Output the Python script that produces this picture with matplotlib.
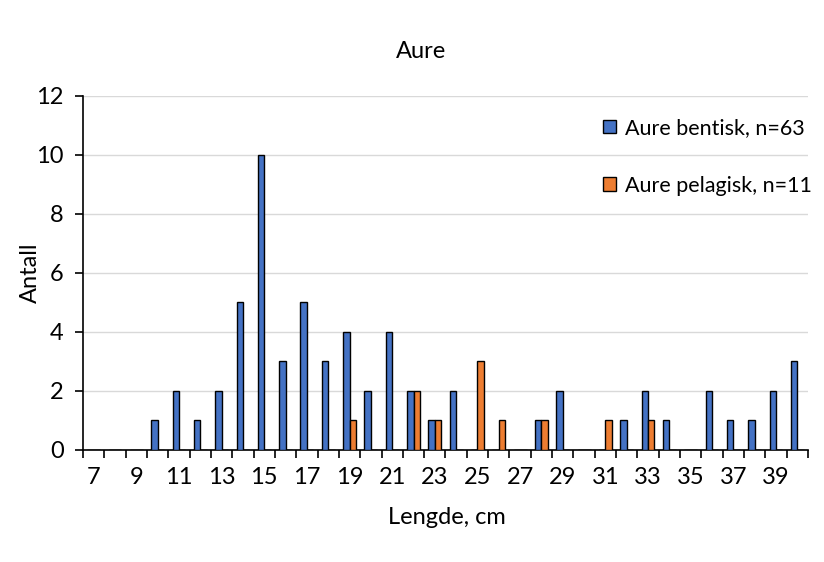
import matplotlib
matplotlib.use("Agg")
import matplotlib.pyplot as plt
import numpy as np

plt.rcParams['font.family'] = ['Lato', 'DejaVu Sans']

lengths = list(range(7, 41))
bentisk = [0, 0, 0, 1, 2, 1, 2, 5, 10, 3, 5, 3, 4, 2, 4, 2, 1, 2, 0, 0, 0, 1, 2, 0, 0, 1, 2, 1, 0, 2, 1, 1, 2, 3]
pelagisk = [0, 0, 0, 0, 0, 0, 0, 0, 0, 0, 0, 0, 1, 0, 0, 2, 1, 0, 3, 1, 0, 1, 0, 0, 1, 0, 1, 0, 0, 0, 0, 0, 0, 0]
labels = ["Aure bentisk, n=63", "Aure pelagisk, n=11"]
title = "Aure"
xlabel = "Lengde, cm"
ylabel = "Antall"

fs = 17
W, H = 824, 562
fig = plt.figure(figsize=(8.24, 5.62), dpi=100)
ax = fig.add_axes([0.1007, 0.1993, 0.8799, 0.6299])

x = np.arange(len(lengths))
w = 0.3
ax.bar(x - w / 2, bentisk, width=w, color="#4472C4", edgecolor="black", linewidth=1.0, label=labels[0], zorder=3)
ax.bar(x + w / 2, pelagisk, width=w, color="#ED7D31", edgecolor="black", linewidth=1.0, label=labels[1], zorder=3)

ax.set_xlim(-0.5, len(lengths) - 0.5)
ax.set_ylim(0, 12)
ax.set_yticks(range(0, 13, 2))
ax.yaxis.grid(True, color="#d9d9d9", linewidth=1.0, zorder=0)
ax.set_axisbelow(True)

ax.set_xticks(x[::2])
ax.set_xticklabels([str(v) for v in lengths[::2]])
ax.set_xticks(np.arange(-0.5, len(lengths), 1.0), minor=True)
ax.tick_params(axis='x', which='major', length=0, labelsize=fs, pad=12)
ax.tick_params(axis='x', which='minor', length=6, width=1.2, direction='out')
ax.tick_params(axis='y', length=6, width=1.2, labelsize=fs, pad=8)

for s in ['top', 'right']:
    ax.spines[s].set_visible(False)
ax.spines['left'].set_linewidth(1.2)
ax.spines['bottom'].set_linewidth(1.2)

fig.text(421 / W, 1 - 52 / H, title, fontsize=fs, ha='center', va='center')
ax.set_xlabel(xlabel, fontsize=fs, va='center')
ax.xaxis.set_label_coords((447 - 83) / 725, (450 - 518) / 354)
ax.set_ylabel(ylabel, fontsize=fs, va='center')
ax.yaxis.set_label_coords((30 - 83) / 725, 0.5)

leg = ax.legend(loc='upper left', bbox_to_anchor=((603 - 83) / 725, (450 - 118) / 354), frameon=False,
                fontsize=15.5, handlelength=0.6, handleheight=0.6, handletextpad=0.4, labelspacing=1.75,
                borderpad=0, borderaxespad=0)

fig.savefig("out.png", dpi=100)
